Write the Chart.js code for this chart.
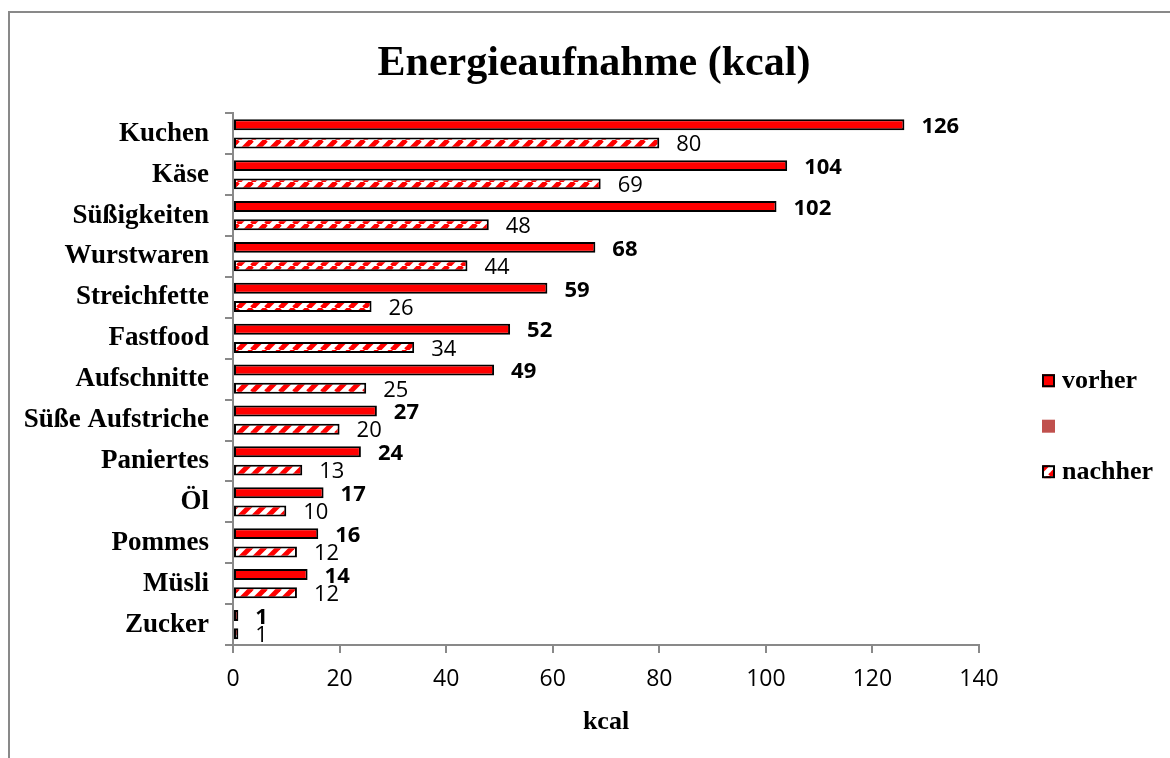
<!DOCTYPE html>
<html>
<head>
<meta charset="utf-8">
<script src="https://cdn.jsdelivr.net/npm/chart.js@4.4.1/dist/chart.umd.min.js"></script>
<style>
  html, body { margin: 0; padding: 0; background: #fff; overflow: hidden; }
  #frame { position: absolute; left: 8px; top: 11px; width: 1300px; height: 900px;
           border-top: 2px solid #898989; border-left: 2px solid #898989; }
  #c { position: absolute; left: 0; top: 0; }
</style>
</head>
<body>
<div id="frame"></div>
<canvas id="c" width="1170" height="758"></canvas>
<script>
// Food groups, top to bottom
const categories = ['Kuchen', 'Käse', 'Süßigkeiten', 'Wurstwaren', 'Streichfette', 'Fastfood',
  'Aufschnitte', 'Süße Aufstriche', 'Paniertes', 'Öl', 'Pommes', 'Müsli', 'Zucker'];

// Energy intake in kcal
const vorher  = [126, 104, 102, 68, 59, 52, 49, 27, 24, 17, 16, 14, 1];
const leer    = [null, null, null, null, null, null, null, null, null, null, null, null, null];
const nachher = [80, 69, 48, 44, 26, 34, 25, 20, 13, 10, 12, 12, 1];

// Value axis tick labels
const xTickLabels = ['0', '20', '40', '60', '80', '100', '120', '140'];

const SERIF = '"Liberation Serif", "Times New Roman", serif';
const SANS = '"Open Sans", "Liberation Sans", sans-serif';
const AXIS_GREY = '#898989';

// red / white diagonal hatch for the "nachher" bars
function stripePattern() {
  const s = 14;
  const c = document.createElement('canvas');
  c.width = s; c.height = s;
  const g = c.getContext('2d');
  g.fillStyle = '#ffffff';
  g.fillRect(0, 0, s, s);
  g.strokeStyle = '#ff0000';
  g.lineWidth = 5;
  for (const o of [-s, 0, s]) {
    g.beginPath();
    g.moveTo(o, s);
    g.lineTo(o + s, 0);
    g.stroke();
  }
  return g.createPattern(c, 'repeat');
}

// numbers printed to the right of each bar
const valueLabels = {
  id: 'valueLabels',
  afterDatasetsDraw(chart) {
    const ctx = chart.ctx;
    [[0, 'bold'], [2, 'normal']].forEach(([di, weight]) => {
      const meta = chart.getDatasetMeta(di);
      const data = chart.data.datasets[di].data;
      ctx.save();
      ctx.font = weight + ' 22px ' + SANS;
      ctx.fillStyle = '#000';
      ctx.textAlign = 'left';
      ctx.textBaseline = 'middle';
      meta.data.forEach((bar, i) => {
        if (data[i] == null) return;
        ctx.fillText(String(data[i]), bar.x + 17, bar.y + 2);
      });
      ctx.restore();
    });
  }
};

// legend column at the right of the plot
const sideLegend = {
  id: 'sideLegend',
  afterDraw(chart) {
    const { ctx, chartArea } = chart;
    const x0 = chartArea.right + 63;
    const yMid = (chartArea.top + chartArea.bottom) / 2 + 47;
    chart.data.datasets.forEach((ds, i) => {
      const y = yMid + (i - 1) * 45.5;
      ctx.save();
      ctx.fillStyle = ds.backgroundColor;
      ctx.fillRect(x0, y - 6.5, 13, 13);
      if (ds.borderWidth) {
        ctx.lineWidth = 2;
        ctx.strokeStyle = ds.borderColor;
        ctx.strokeRect(x0 + 1, y - 5.5, 11, 11);
      }
      ctx.font = 'bold 26px ' + SERIF;
      ctx.fillStyle = '#000';
      ctx.textAlign = 'left';
      ctx.textBaseline = 'middle';
      ctx.fillText(ds.label, x0 + 20, y + 1);
      ctx.restore();
    });
  }
};

new Chart(document.getElementById('c'), {
  type: 'bar',
  data: {
    labels: categories,
    datasets: [
      { label: 'vorher', data: vorher, backgroundColor: '#ff0000', borderColor: '#000', borderWidth: 2, borderSkipped: false },
      { label: '', data: leer, backgroundColor: '#c0504d', borderWidth: 0 },
      { label: 'nachher', data: nachher, backgroundColor: stripePattern(), borderColor: '#000', borderWidth: 2, borderSkipped: false }
    ]
  },
  options: {
    indexAxis: 'y',
    responsive: false,
    animation: false,
    devicePixelRatio: 1,
    categoryPercentage: 0.67,
    barPercentage: 1.2,
    layout: { padding: { left: 18, right: 0, top: 11, bottom: 0 } },
    plugins: {
      legend: { display: false },
      tooltip: { enabled: false },
      title: {
        display: true,
        text: 'Energieaufnahme (kcal)',
        color: '#000',
        font: { family: SERIF, size: 42, weight: 'bold', lineHeight: 1.2 },
        padding: { top: 28, bottom: 24 }
      }
    },
    scales: {
      x: {
        type: 'linear',
        position: 'bottom',
        min: 0,
        max: 140,
        grid: { drawOnChartArea: false, drawTicks: true, tickLength: 8, color: AXIS_GREY, lineWidth: 2 },
        border: { color: AXIS_GREY, width: 2 },
        ticks: {
          stepSize: 20,
          color: '#000',
          padding: 13,
          font: { family: SANS, size: 23 },
          callback: (v, i) => xTickLabels[i]
        },
        title: {
          display: true,
          text: 'kcal',
          color: '#000',
          font: { family: SERIF, size: 26, weight: 'bold', lineHeight: 1.2 },
          padding: { top: 0, bottom: 20 }
        },
        afterFit(s) { s.height = 113; }
      },
      y: {
        type: 'category',
        position: 'left',
        grid: { offset: true, drawOnChartArea: false, drawTicks: true, tickLength: 8, color: AXIS_GREY, lineWidth: 2 },
        border: { color: AXIS_GREY, width: 2 },
        ticks: {
          autoSkip: false,
          color: '#000',
          padding: 16,
          font: { family: SERIF, size: 27, weight: 'bold' }
        },
        afterFit(s) { s.width = 215; }
      },
      // empty strip on the right that holds the legend column
      legendSpace: {
        type: 'category',
        position: 'right',
        display: true,
        grid: { display: false },
        border: { display: false },
        ticks: { display: false },
        afterFit(s) { s.width = 191; }
      }
    }
  },
  plugins: [valueLabels, sideLegend]
});
</script>
</body>
</html>
